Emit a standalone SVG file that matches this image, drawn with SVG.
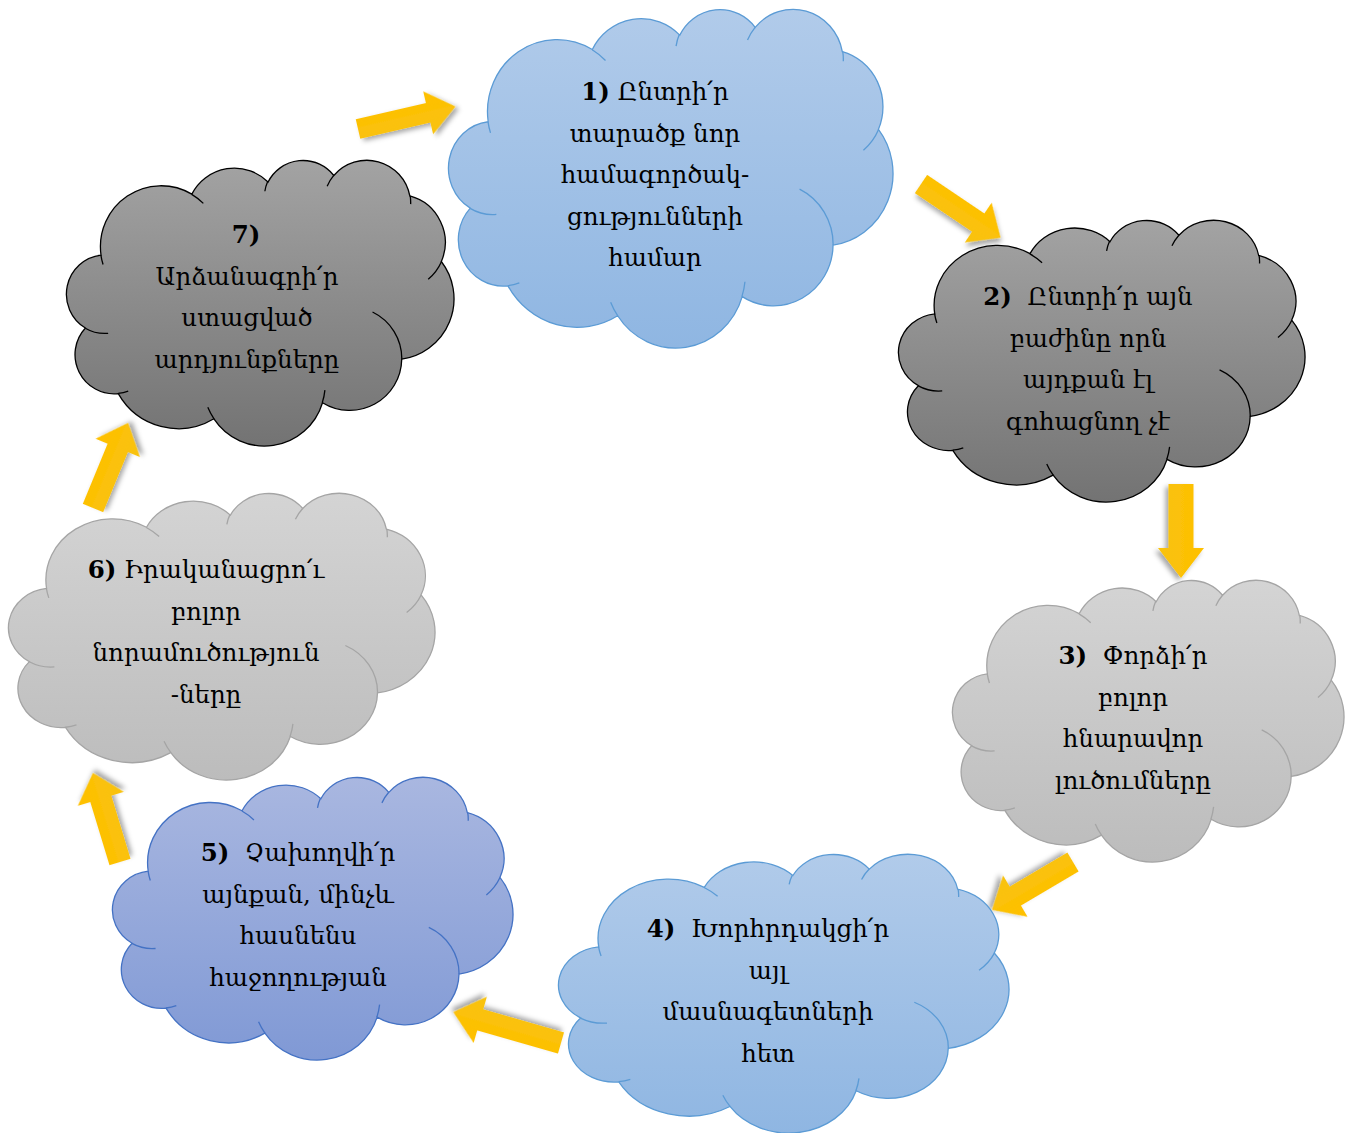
<svg xmlns="http://www.w3.org/2000/svg" width="1354" height="1133" viewBox="0 0 1354 1133">
<style>
.t{font-family:"DejaVu Serif","Noto Sans",serif;font-size:24.5px;text-anchor:middle;fill:#000}
.n{font-weight:bold}
.o{stroke-width:1.3}
.i{fill:none;stroke-width:1.3}
.blue .o{fill:url(#gBlue);stroke:#5b9bd5}
.blue .i{stroke:#5b9bd5}
.dark .o{fill:url(#gDark);stroke:#000}
.dark .i{stroke:#000}
.light .o{fill:url(#gLight);stroke:#a5a5a5}
.light .i{stroke:#a5a5a5}
.peri .o{fill:url(#gPeri);stroke:#4472c4}
.peri .i{stroke:#4472c4}
.arr{fill:url(#gArr);filter:url(#sh)}
</style>
<defs>
<linearGradient id="gBlue" x1="0" y1="0" x2="0" y2="1"><stop offset="0" stop-color="#b1cbea"/><stop offset="1" stop-color="#8fb6e2"/></linearGradient>
<linearGradient id="gDark" x1="0" y1="0" x2="0" y2="1"><stop offset="0" stop-color="#a3a3a3"/><stop offset="1" stop-color="#737373"/></linearGradient>
<linearGradient id="gLight" x1="0" y1="0" x2="0" y2="1"><stop offset="0" stop-color="#d4d4d4"/><stop offset="1" stop-color="#bcbcbc"/></linearGradient>
<linearGradient id="gPeri" x1="0" y1="0" x2="0" y2="1"><stop offset="0" stop-color="#a9b7e0"/><stop offset="1" stop-color="#8099d5"/></linearGradient>
<linearGradient id="gArr" x1="0" y1="0" x2="0" y2="1"><stop offset="0" stop-color="#ffc000"/><stop offset="1" stop-color="#f8c20e"/></linearGradient>
<filter id="sh" x="-30%" y="-30%" width="160%" height="160%"><feDropShadow dx="3" dy="3" stdDeviation="2.5" flood-color="#000" flood-opacity="0.35"/></filter>
<path id="cloudO" vector-effect="non-scaling-stroke" d="M1950,7185 A2172.5,2972.5 0 0 0 1080,12690 A2180,2959 0 0 0 2910,17640 A3860,5271.5 0 0 0 8235,19545 A3376,4607.5 0 0 0 14280,18330 A2892.5,3933.5 0 0 0 18690,15045 A3387.5,4610 0 0 0 20895,7665 A2666.5,3636.5 0 0 0 19140,2715 A2428.5,3297.5 0 0 0 14910,1170 A2182.5,2972.5 0 0 0 11250,1665 A2666.5,3633.5 0 0 0 7005,2580 A3376.5,4595 0 0 0 1950,7185 Z"/>
<path id="cloudI" vector-effect="non-scaling-stroke" d="M2346.5,13088.5 A2172.5,2972.5 0 0 1 1074.5,12702.5 M3464,17449.5 A2180,2959 0 0 1 2909,17630 M8239,19545 A3376,4607.5 0 0 1 7895,18680 M14413.5,17375.5 A3376,4607.5 0 0 1 14267,18324.5 M17064.5,11477 A2892.5,3933.5 0 0 1 18695,15045 M20899,7677 A2666.5,3636.5 0 0 1 20164.5,9000.5 M19162,2713 A2428.5,3297.5 0 0 1 19187,3332.5 M14539,1976 A2428.5,3297.5 0 0 1 14906,1165 M11070.5,2360 A2182.5,2972.5 0 0 1 11221.5,1646 M7000,2596 A3376.5,4595 0 0 1 7645.5,3277 M2063.5,7894.5 A3376.5,4595 0 0 1 1943,7186.5"/>
</defs>
<rect width="1354" height="1133" fill="#fff"/>

<g id="connectors">
<polygon class="arr" transform="translate(358,129) rotate(-13)" points="0,-10 72,-10 72,-22 100,0 72,22 72,10 0,10"/>
<polygon class="arr" transform="translate(921,184) rotate(34)" points="0,-11 69,-11 69,-24 96,0 69,24 69,11 0,11"/>
<polygon class="arr" transform="translate(1181,484) rotate(90)" points="0,-12.5 64,-12.5 64,-23 94,0 64,23 64,12.5 0,12.5"/>
<polygon class="arr" transform="translate(1073,862) rotate(149.4)" points="0,-11 67,-11 67,-24 94,0 67,24 67,11 0,11"/>
<polygon class="arr" transform="translate(561,1043) rotate(196)" points="0,-11 84,-11 84,-24 112,0 84,24 84,11 0,11"/>
<polygon class="arr" transform="translate(120,862) rotate(-106.9)" points="0,-11 66,-11 66,-24 93,0 66,24 66,11 0,11"/>
<polygon class="arr" transform="translate(93,508) rotate(-67.6)" points="0,-11 65,-11 65,-24 92,0 65,24 65,11 0,11"/>
</g>

<g id="node1" class="blue">
<g transform="translate(448,9) scale(0.020602,0.015694)"><use href="#cloudO" class="o"/><use href="#cloudI" class="i"/></g>
<text class="t" x="655" y="100"><tspan class="n">1)</tspan> Ընտրի՛ր</text>
<text class="t" x="655" y="141.5">տարածք նոր</text>
<text class="t" x="655" y="183">համագործակ-</text>
<text class="t" x="655" y="224.5">ցությունների</text>
<text class="t" x="655" y="266">համար</text>
</g>

<g id="node2" class="dark">
<g transform="translate(898,220) scale(0.018843,0.013056)"><use href="#cloudO" class="o"/><use href="#cloudI" class="i"/></g>
<text class="t" x="1088" y="305" xml:space="preserve"><tspan class="n">2)</tspan>  Ընտրի՛ր այն</text>
<text class="t" x="1088" y="346.5">բաժինը որն</text>
<text class="t" x="1088" y="388">այդքան էլ</text>
<text class="t" x="1088" y="429.5">գոհացնող չէ</text>
</g>

<g id="node3" class="light">
<g transform="translate(952,580) scale(0.018148,0.013056)"><use href="#cloudO" class="o"/><use href="#cloudI" class="i"/></g>
<text class="t" x="1133" y="664" xml:space="preserve"><tspan class="n">3)</tspan>  Փորձի՛ր</text>
<text class="t" x="1133" y="705.5">բոլոր</text>
<text class="t" x="1133" y="747">հնարավոր</text>
<text class="t" x="1133" y="788.5">լուծումները</text>
</g>

<g id="node4" class="blue">
<g transform="translate(558,854) scale(0.020880,0.012917)"><use href="#cloudO" class="o"/><use href="#cloudI" class="i"/></g>
<text class="t" x="768" y="937" xml:space="preserve"><tspan class="n">4)</tspan>  Խորհրդակցի՛ր</text>
<text class="t" x="768" y="978.5">այլ</text>
<text class="t" x="768" y="1020">մասնագետների</text>
<text class="t" x="768" y="1061.5">հետ</text>
</g>

<g id="node5" class="peri">
<g transform="translate(112,777) scale(0.018565,0.013102)"><use href="#cloudO" class="o"/><use href="#cloudI" class="i"/></g>
<text class="t" x="298" y="861" xml:space="preserve"><tspan class="n">5)</tspan>  Չախողվի՛ր</text>
<text class="t" x="298" y="902.5">այնքան, մինչև</text>
<text class="t" x="298" y="944">հասնենս</text>
<text class="t" x="298" y="985.5">հաջողության</text>
</g>

<g id="node6" class="light">
<g transform="translate(8,493) scale(0.019769,0.013287)"><use href="#cloudO" class="o"/><use href="#cloudI" class="i"/></g>
<text class="t" x="206" y="578"><tspan class="n">6)</tspan> Իրականացրո՛ւ</text>
<text class="t" x="206" y="619.5">բոլոր</text>
<text class="t" x="206" y="661">նորամուծություն</text>
<text class="t" x="206" y="702.5">-ները</text>
</g>

<g id="node7" class="dark">
<g transform="translate(66,160) scale(0.017963,0.013241)"><use href="#cloudO" class="o"/><use href="#cloudI" class="i"/></g>
<text class="t n" x="246" y="243">7)</text>
<text class="t" x="247" y="284.5">Արձանագրի՛ր</text>
<text class="t" x="247" y="326">ստացված</text>
<text class="t" x="247" y="367.5">արդյունքները</text>
</g>
</svg>
